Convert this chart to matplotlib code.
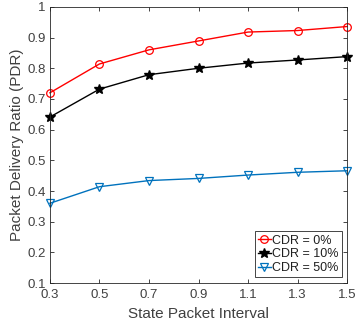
import matplotlib
matplotlib.use("Agg")
import matplotlib.pyplot as plt

plt.rcParams['font.family'] = ['Liberation Sans', 'DejaVu Sans']

# ----------------- data -----------------
interval = [0.3, 0.5, 0.7, 0.9, 1.1, 1.3, 1.5]
pdr_cdr0 = [0.72, 0.814, 0.86, 0.889, 0.918, 0.923, 0.936]
pdr_cdr10 = [0.641, 0.732, 0.779, 0.800, 0.817, 0.827, 0.838]
pdr_cdr50 = [0.360, 0.414, 0.434, 0.441, 0.452, 0.461, 0.466]

labels = ['CDR = 0%', 'CDR = 10%', 'CDR = 50%']
xticks = [0.3, 0.5, 0.7, 0.9, 1.1, 1.3, 1.5]
yticks = [0.1, 0.2, 0.3, 0.4, 0.5, 0.6, 0.7, 0.8, 0.9, 1.0]

axcol = '#262626'
txtcol = '#404040'

fig = plt.figure(figsize=(3.59, 3.28), dpi=100)
ax = fig.add_axes([0.139, 0.137, 0.828, 0.842])

ax.plot(interval, pdr_cdr0, color='#ff0000', lw=1.0, marker='o', ms=5.5,
        mfc='none', mec='#ff0000', mew=0.9, label=labels[0], clip_on=False)
ax.plot(interval, pdr_cdr10, color='black', lw=1.0, marker='*', ms=7.5,
        mfc='black', mec='black', label=labels[1], clip_on=False)
ax.plot(interval, pdr_cdr50, color='#0072BD', lw=1.0, marker='v', ms=5.5,
        mfc='none', mec='#0072BD', mew=0.9, label=labels[2], clip_on=False)

ax.set_xlim(0.3, 1.5)
ax.set_ylim(0.1, 1.0)
ax.set_xticks(xticks)
ax.set_xticklabels(['0.3', '0.5', '0.7', '0.9', '1.1', '1.3', '1.5'])
ax.set_yticks(yticks)
ax.set_yticklabels(['0.1', '0.2', '0.3', '0.4', '0.5', '0.6', '0.7', '0.8', '0.9', '1'])

ax.tick_params(direction='in', length=3, width=0.6, colors=axcol,
               labelcolor=txtcol, labelsize=9.5,
               top=True, right=True, labeltop=False, labelright=False)
ax.tick_params(axis='x', pad=4.5)
ax.tick_params(axis='y', pad=3)
for s in ax.spines.values():
    s.set_color(axcol)
    s.set_linewidth(0.6)

ax.set_xlabel('State Packet Interval', fontsize=11, color=txtcol, labelpad=4)
ax.set_ylabel('Packet Delivery Ratio (PDR)', fontsize=11, color=txtcol, labelpad=2)

leg = ax.legend(loc='lower right', fontsize=9, frameon=True, fancybox=False,
                handlelength=1.0, handletextpad=0.1, borderpad=0.25,
                labelspacing=0.15, borderaxespad=0.45)
leg.get_frame().set_edgecolor(axcol)
leg.get_frame().set_linewidth(0.6)
leg.get_frame().set_alpha(1)
for t in leg.get_texts():
    t.set_color('#202020')

fig.savefig('out.png', dpi=100)
